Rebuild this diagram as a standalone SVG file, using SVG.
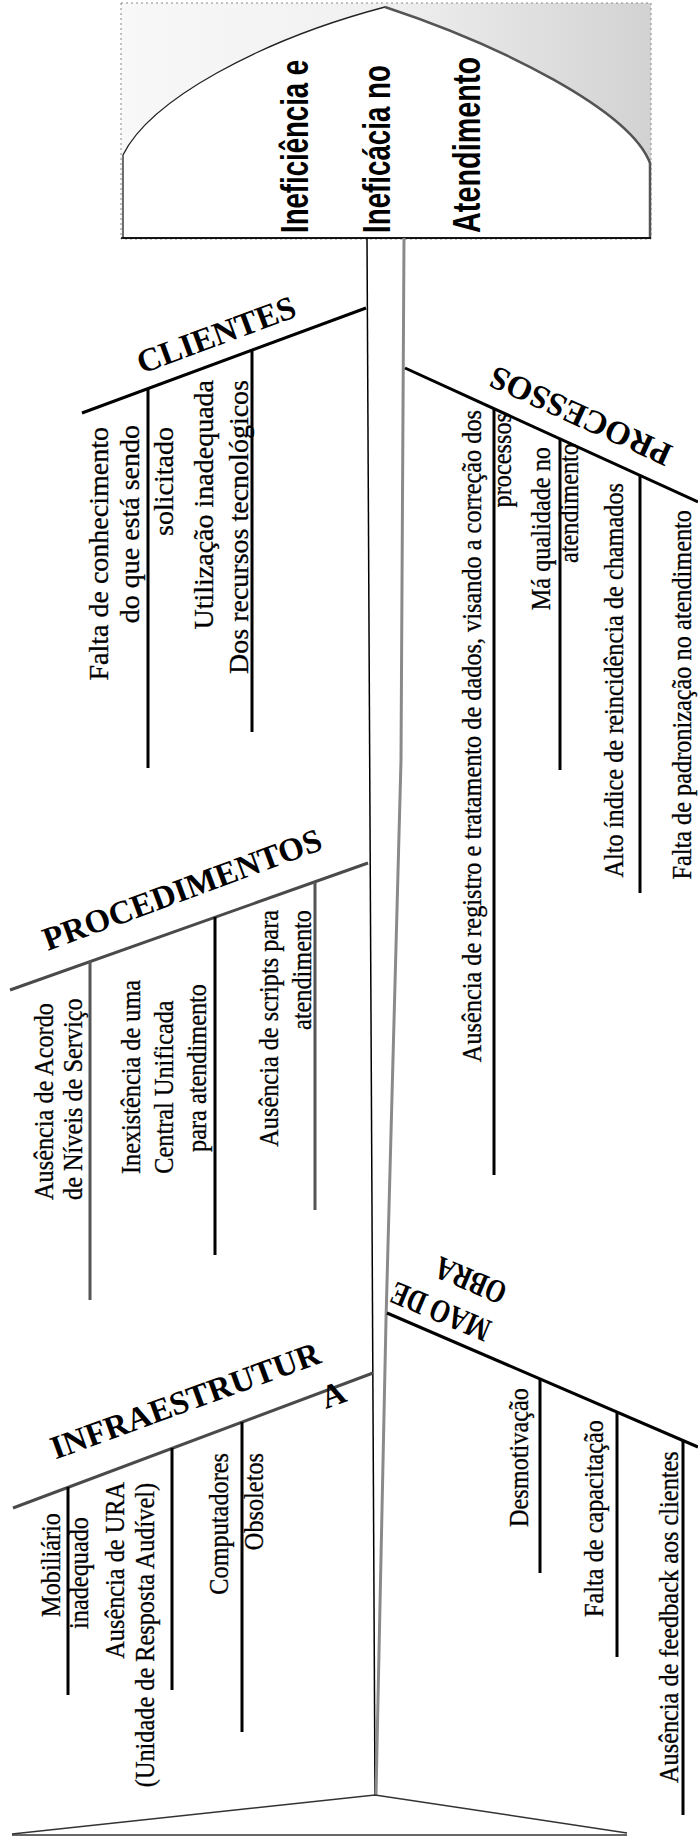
<svg xmlns="http://www.w3.org/2000/svg" width="698" height="1838" viewBox="0 0 698 1838">
<defs>
<linearGradient id="headbg" x1="0" y1="0" x2="1" y2="0">
<stop offset="0" stop-color="#f8f8f8"/>
<stop offset="0.5" stop-color="#f0f0f0"/>
<stop offset="1" stop-color="#d2d2d2"/>
</linearGradient>
<style>
.head{font-family:"Liberation Sans",Arial,sans-serif;font-weight:bold;font-size:39px;fill:#000}
.hd{font-family:"Liberation Serif","Times New Roman",serif;font-weight:bold;font-size:33px;fill:#000}
.lb{font-family:"Liberation Serif","Times New Roman",serif;font-size:28px;fill:#000;stroke:#000;stroke-width:0.3}
.lc{font-family:"Liberation Serif","Times New Roman",serif;font-size:27px;fill:#000;stroke:#000;stroke-width:0.3}
.bone{fill:none;stroke:#000;stroke-width:3}
.boneg{fill:none;stroke:#4a4a4a;stroke-width:3}
.sub{stroke:#000;stroke-width:3}
.subg{stroke:#555;stroke-width:3}
</style>
</defs>
<rect width="698" height="1838" fill="#fff"/>

<g id="head">
<rect x="121" y="3" width="530" height="236" fill="url(#headbg)" stroke="#888" stroke-width="1" stroke-dasharray="2 3"/>
<path d="M123,238 L123,155 C150,100 260,40 385,7 C500,45 630,110 650,163 L650,238 Z" fill="#fff" stroke="#222" stroke-width="1.3"/>
<path d="M385,7 C500,45 630,110 650,163 L650,238" fill="none" stroke="#555" stroke-width="2.5"/>
<line x1="121" y1="238" x2="651" y2="238" stroke="#000" stroke-width="1.5"/>
<text class="head" transform="translate(308,233) rotate(-90) scale(0.707,1)">Ineficiência e</text>
<text class="head" transform="translate(390,233) rotate(-90) scale(0.711,1)">Ineficácia no</text>
<text class="head" transform="translate(480,233) rotate(-90) scale(0.739,1)">Atendimento</text>
</g>

<g id="connectors">
<line x1="367" y1="238" x2="375" y2="1795" stroke="#000" stroke-width="1.5"/>
<polyline points="404,238 401,760 386,1320 376,1795" fill="none" stroke="#8a8a8a" stroke-width="3"/>
<path d="M12,1834 L375,1795 L627,1833" fill="none" stroke="#333" stroke-width="1.5"/>
<line x1="12" y1="1835" x2="627" y2="1835" stroke="#333" stroke-width="1.5"/>
<path class="bone" d="M82,413 L366,308"/>
<path class="boneg" d="M10,990 L368,863"/>
<path class="boneg" d="M13,1508 L373,1373"/>
<path class="bone" d="M405,368 L698,502"/>
<path class="bone" d="M387,1313 L698,1447"/>
<line class="sub" x1="148" y1="389" x2="148" y2="768"/>
<line class="sub" x1="252" y1="350" x2="252" y2="732"/>
<line class="subg" x1="90" y1="961" x2="90" y2="1300"/>
<line class="sub" x1="215" y1="917" x2="215" y2="1255"/>
<line class="subg" x1="315" y1="882" x2="315" y2="1210"/>
<line class="sub" x1="494" y1="409" x2="494" y2="1175"/>
<line class="sub" x1="560" y1="439" x2="560" y2="770"/>
<line class="sub" x1="640" y1="475" x2="640" y2="893"/>
<line class="sub" x1="68" y1="1487" x2="68" y2="1695"/>
<line class="sub" x1="172" y1="1448" x2="172" y2="1690"/>
<line class="sub" x1="242" y1="1422" x2="242" y2="1732"/>
<line class="sub" x1="540" y1="1379" x2="540" y2="1573"/>
<line class="sub" x1="617" y1="1412" x2="617" y2="1657"/>
<line class="sub" x1="683" y1="1440" x2="683" y2="1815"/>
</g>

<g id="clientes">
<text class="hd" text-anchor="middle" transform="translate(220,345) rotate(-20.3)">CLIENTES</text>
<text class="lb" text-anchor="end" transform="translate(108,427) rotate(-90)">Falta de conhecimento</text>
<text class="lb" text-anchor="end" transform="translate(139,425) rotate(-90)">do que está sendo</text>
<text class="lb" text-anchor="end" transform="translate(173,427) rotate(-90)">solicitado</text>
<text class="lb" text-anchor="end" transform="translate(213,380) rotate(-90)">Utilização inadequada</text>
<text class="lb" text-anchor="end" transform="translate(248,380) rotate(-90)">Dos recursos tecnológicos</text>
</g>

<g id="procedimentos">
<text class="hd" text-anchor="middle" transform="translate(186,900) rotate(-20.3)">PROCEDIMENTOS</text>
<text class="lc" transform="translate(53,1200) rotate(-90) scale(0.9,1)">Ausência de Acordo</text>
<text class="lc" transform="translate(82,1200) rotate(-90) scale(0.9,1)">de Níveis de Serviço</text>
<text class="lc" text-anchor="middle" transform="translate(140,1077) rotate(-90) scale(0.9,1)">Inexistência de uma</text>
<text class="lc" text-anchor="middle" transform="translate(173,1087) rotate(-90) scale(0.9,1)">Central Unificada</text>
<text class="lc" text-anchor="middle" transform="translate(206,1068) rotate(-90) scale(0.9,1)">para atendimento</text>
<text class="lc" text-anchor="end" transform="translate(278,910) rotate(-90) scale(0.9,1)">Ausência de scripts para</text>
<text class="lc" text-anchor="end" transform="translate(311,910) rotate(-90) scale(0.9,1)">atendimento</text>
</g>

<g id="processos">
<text class="hd" text-anchor="middle" transform="translate(585,406) rotate(204.5)">PROCESSOS</text>
<text class="lc" text-anchor="end" transform="translate(481,410) rotate(-90) scale(0.9,1)">Ausência de registro e tratamento de dados, visando a correção dos</text>
<text class="lc" text-anchor="end" transform="translate(511,413) rotate(-90) scale(0.9,1)">processos</text>
<text class="lc" text-anchor="end" transform="translate(550,447) rotate(-90) scale(0.9,1)">Má qualidade no</text>
<text class="lc" text-anchor="end" transform="translate(578,443) rotate(-90) scale(0.9,1)">atendimento</text>
<text class="lc" text-anchor="end" transform="translate(623,483) rotate(-90) scale(0.9,1)">Alto índice de reincidência de chamados</text>
<text class="lc" text-anchor="end" transform="translate(691,510) rotate(-90) scale(0.9,1)">Falta de padronização no atendimento</text>
</g>

<g id="infraestrutura">
<text class="hd" text-anchor="middle" transform="translate(189,1411) rotate(-20)">INFRAESTRUTUR</text>
<text class="hd" text-anchor="middle" transform="translate(337,1405) rotate(-20)">A</text>
<text class="lc" text-anchor="end" transform="translate(60,1513) rotate(-90) scale(0.9,1)">Mobiliário</text>
<text class="lc" text-anchor="end" transform="translate(88,1517) rotate(-90) scale(0.9,1)">inadequado</text>
<text class="lc" text-anchor="end" transform="translate(124,1482) rotate(-90) scale(0.9,1)">Ausência de URA</text>
<text class="lc" text-anchor="end" transform="translate(154,1483) rotate(-90) scale(0.9,1)">(Unidade de Resposta Audível)</text>
<text class="lc" text-anchor="end" transform="translate(228,1453) rotate(-90) scale(0.9,1)">Computadores</text>
<text class="lc" text-anchor="end" transform="translate(263,1453) rotate(-90) scale(0.9,1)">Obsoletos</text>
</g>

<g id="mao-de-obra">
<text class="hd" transform="translate(493,1322) rotate(203) scale(0.78,1)">MAO DE</text>
<text class="hd" transform="translate(509,1285) rotate(203) scale(0.78,1)">OBRA</text>
<text class="lc" transform="translate(528,1527) rotate(-90) scale(0.9,1)">Desmotivação</text>
<text class="lc" transform="translate(603,1617) rotate(-90) scale(0.9,1)">Falta de capacitação</text>
<text class="lc" transform="translate(678,1783) rotate(-90) scale(0.9,1)">Ausência de feedback aos clientes</text>
</g>
</svg>
